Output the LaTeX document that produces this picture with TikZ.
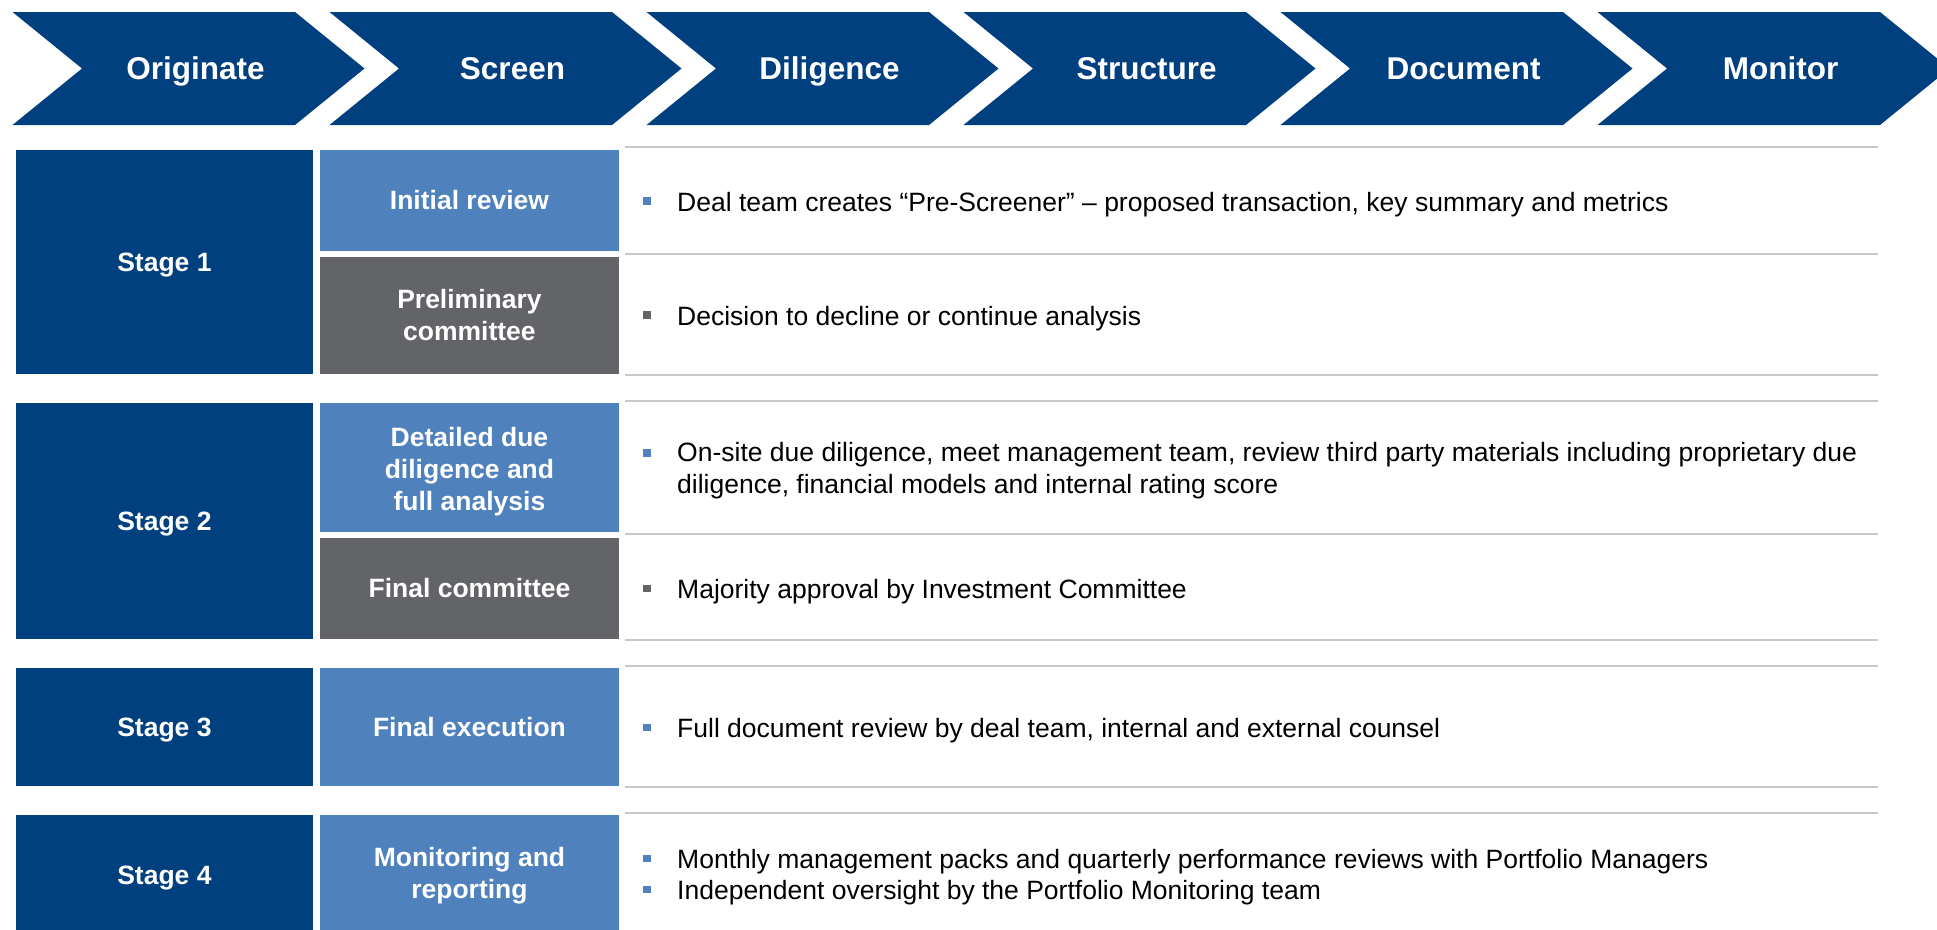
\documentclass[tikz,border=0pt]{standalone}
\usepackage{fontspec}
\setmainfont{Liberation Sans}
\definecolor{navy}{RGB}{1,64,127}
\definecolor{lblue}{RGB}{79,129,189}
\definecolor{slate}{RGB}{99,100,104}
\definecolor{rulegray}{RGB}{200,200,200}
\begin{document}
\begin{tikzpicture}[x=1pt,y=-1pt,
  chevron/.style={fill=navy},
  head/.style={text=white,inner sep=0pt,text height=22.5pt,text depth=0pt,
    font=\fontsize{31.5}{36}\selectfont\bfseries},
  cell/.style={anchor=north west,inner sep=0pt,text=white,align=center,
    font=\fontsize{26.5}{32}\selectfont\bfseries},
  capline/.style={text height=19pt,text depth=0pt},
  stagebox/.style={cell,capline,fill=navy,minimum width=297.5pt},
  subbox/.style={cell,minimum width=298.5pt},
  bul/.style={inner sep=0pt,minimum size=7.5pt},
  item/.style={anchor=west,inner sep=0pt,align=left,
    font=\fontsize{26.5}{31.5}\selectfont},
  oneline/.style={item,capline},
  sep/.style={draw=rulegray,line width=2pt}
]
\useasboundingbox (0,0) rectangle (1937,929);
\clip (0,0) rectangle (1937,929);

% process chevrons
\foreach \lab [count=\i from 0] in {Originate,Screen,Diligence,Structure,Document,Monitor}{
  \pgfmathsetmacro\xl{12.5+317*\i}
  \fill[chevron] (\xl,12) -- ++(282.5,0) -- ++(69.5,56.5) -- ++(-69.5,56.5)
    -- ++(-282.5,0) -- ++(69.5,-56.5) -- cycle;
  \node[head] (chev\i) at (\xl+183,68.5) {\lab};
}

% separator rules of the description column
\foreach \y in {147.3,254,375,401,534.3,640,666,786.7,813.3}
  \draw[sep] (625,\y) -- (1878,\y);

% stage 1
\node[stagebox,minimum height=224pt] (st1) at (15.5,149.3) {Stage 1};
\node[subbox,capline,fill=lblue,minimum height=101.4pt] (ir) at (320,149.3) {Initial review};
\node[subbox,fill=slate,minimum height=116.6pt] (pc) at (320,256.7) {Preliminary\\committee};
\node[bul,fill=lblue] (b1) at (647,201) {};
\node[oneline] (t1) at (677,202) {Deal team creates “Pre-Screener” – proposed transaction, key summary and metrics};
\node[bul,fill=slate] (b2) at (647,315) {};
\node[oneline] (t2) at (677,316) {Decision to decline or continue analysis};

% stage 2
\node[stagebox,minimum height=236.7pt] (st2) at (15.5,402.3) {Stage 2};
\node[subbox,fill=lblue,minimum height=129.4pt] (dd) at (320,402.3) {\rule{0pt}{28pt}Detailed due\\diligence and\\full analysis};
\node[subbox,capline,fill=slate,minimum height=101.7pt] (fc) at (320,537.3) {Final committee};
\node[bul,fill=lblue] (b3) at (647,453) {};
\node[item] (t3) at (677,470.5) {On-site due diligence, meet management team, review third party materials including proprietary due\\diligence, financial models and internal rating score};
\node[bul,fill=slate] (b4) at (647,588.3) {};
\node[oneline] (t4) at (677,589) {Majority approval by Investment Committee};

% stage 3
\node[stagebox,minimum height=118.3pt] (st3) at (15.5,667.7) {Stage 3};
\node[subbox,capline,fill=lblue,minimum height=118.3pt] (fe) at (320,667.7) {Final execution};
\node[bul,fill=lblue] (b5) at (647,727.5) {};
\node[oneline] (t5) at (677,728) {Full document review by deal team, internal and external counsel};

% stage 4
\node[stagebox,minimum height=121.4pt] (st4) at (15.5,814.3) {Stage 4};
\node[subbox,fill=lblue,minimum height=121.4pt] (mr) at (320,814.3) {Monitoring and\\reporting};
\node[bul,fill=lblue] (b6) at (647,858.3) {};
\node[oneline] (t6) at (677,859) {Monthly management packs and quarterly performance reviews with Portfolio Managers};
\node[bul,fill=lblue] (b7) at (647,889.3) {};
\node[oneline] (t7) at (677,890) {Independent oversight by the Portfolio Monitoring team};
\end{tikzpicture}
\end{document}
